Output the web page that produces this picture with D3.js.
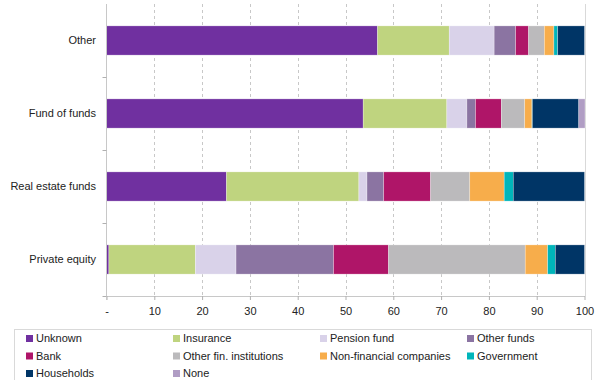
<!DOCTYPE html>
<html>
<head>
<meta charset="utf-8">
<script src="https://cdn.jsdelivr.net/npm/d3@7/dist/d3.min.js"></script>
<style>
  html, body { margin: 0; padding: 0; background: #fff; }
  text { font-family: "Liberation Sans", Arial, sans-serif; }
</style>
</head>
<body>
<svg id="chart" width="606" height="380"></svg>
<script>
const categories = ["Other", "Fund of funds", "Real estate funds", "Private equity"];
const seriesNames = ["Unknown", "Insurance", "Pension fund", "Other funds", "Bank",
  "Other fin. institutions", "Non-financial companies", "Government", "Households", "None"];
const seriesColors = ["#7030A0", "#BFD47F", "#D9D2E9", "#8B74A2", "#AF1568",
  "#BBBABC", "#F7AD4B", "#00B5BA", "#003566", "#B09DC4"];
// values per series, ordered as categories
const unknown     = [56.7, 53.7, 25.1, 0.5];
const insurance   = [15.0, 17.5, 27.7, 18.1];
const pension     = [9.4, 4.2, 1.7, 8.5];
const otherFunds  = [4.5, 1.8, 3.5, 20.4];
const bank        = [2.7, 5.4, 9.8, 11.5];
const otherFin    = [3.3, 4.9, 8.2, 28.6];
const nonFin      = [2.0, 1.5, 7.2, 4.7];
const government  = [0.8, 0.1, 1.9, 1.6];
const households  = [5.6, 9.7, 14.9, 6.1];
const none        = [0.0, 1.3, 0.0, 0.0];
const xTicks = [0, 10, 20, 30, 40, 50, 60, 70, 80, 90, 100];
const xTickLabels = ["-", "10", "20", "30", "40", "50", "60", "70", "80", "90", "100"];

const seriesValues = [unknown, insurance, pension, otherFunds, bank, otherFin, nonFin, government, households, none];

const rows = categories.map((c, i) => {
  const r = { category: c };
  seriesNames.forEach((s, j) => { r[s] = seriesValues[j][i]; });
  return r;
});
const stacked = d3.stack().keys(seriesNames)(rows);

const svg = d3.select("#chart");
const mLeft = 106.5, mRight = 584.5, mTop = 4, mBottom = 296;

const x = d3.scaleLinear().domain([0, 100]).range([mLeft, mRight]);
const y = d3.scaleBand().domain(categories).range([mTop, mBottom]).paddingInner(0.6).paddingOuter(0.3);
const yBand = d3.scaleBand().domain(categories).range([mTop, mBottom]);

// gridlines
svg.append("g").selectAll("line").data(xTicks.slice(1))
  .join("line")
  .attr("x1", d => Math.round(x(d)) + 0.5).attr("x2", d => Math.round(x(d)) + 0.5)
  .attr("y1", mTop).attr("y2", mBottom)
  .attr("stroke", d => d === 100 ? "#d9d9d9" : "#c8c8c8")
  .attr("stroke-width", 1)
  .attr("stroke-dasharray", d => d === 100 ? null : "3,3");

// bars
svg.append("g").selectAll("g").data(stacked).join("g")
  .attr("fill", (d, i) => seriesColors[i])
  .selectAll("rect").data(d => d).join("rect")
  .attr("x", d => x(d[0]))
  .attr("width", d => Math.max(0, x(d[1]) - x(d[0])))
  .attr("y", d => y(d.data.category))
  .attr("height", y.bandwidth())
  .attr("stroke", "rgba(255,255,255,0.45)")
  .attr("stroke-width", 0.6);

// x axis
const xAxis = d3.axisBottom(x).tickValues(xTicks).tickFormat((d, i) => xTickLabels[i]).tickSize(4).tickSizeOuter(0);
const gx = svg.append("g").attr("transform", `translate(0,${mBottom})`).call(xAxis);
gx.select(".domain").attr("stroke", "#c8c8c8");
gx.selectAll(".tick line").attr("stroke", "#b0b0b0");
gx.selectAll(".tick text").attr("font-size", 11).attr("fill", "#222").attr("dy", "1.05em")
  .attr("font-family", "Liberation Sans, Arial, sans-serif");

// y axis line and ticks at category boundaries
svg.append("line").attr("x1", mLeft).attr("x2", mLeft).attr("y1", mTop).attr("y2", mBottom + 4)
  .attr("stroke", "#c8c8c8");
svg.append("g").selectAll("line").data(categories)
  .join("line")
  .attr("x1", mLeft - 4).attr("x2", mLeft)
  .attr("y1", (d, i) => Math.round(mTop + (i + 1) * yBand.step()) + 0.5)
  .attr("y2", (d, i) => Math.round(mTop + (i + 1) * yBand.step()) + 0.5)
  .attr("stroke", "#b0b0b0");

// category labels
svg.append("g").selectAll("text").data(categories).join("text")
  .attr("x", 96).attr("y", d => y(d) + y.bandwidth() / 2)
  .attr("dy", "0.35em").attr("text-anchor", "end")
  .attr("font-size", 11).attr("fill", "#222")
  .text(d => d);

// legend
const lg = svg.append("g");
lg.append("rect").attr("x", 14.5).attr("y", 329.5).attr("width", 577).attr("height", 60)
  .attr("fill", "#fff").attr("stroke", "#d9d9d9");
const colX = [26, 173, 320, 467], rowY = [338.5, 356, 373.5];
seriesNames.forEach((s, i) => {
  const cx = colX[i % 4], cy = rowY[Math.floor(i / 4)];
  lg.append("rect").attr("x", cx).attr("y", cy - 3.5).attr("width", 7).attr("height", 7).attr("fill", seriesColors[i]);
  lg.append("text").attr("x", cx + 10).attr("y", cy).attr("dy", "0.35em")
    .attr("font-size", 11).attr("fill", "#222").text(s);
});
</script>
</body>
</html>
